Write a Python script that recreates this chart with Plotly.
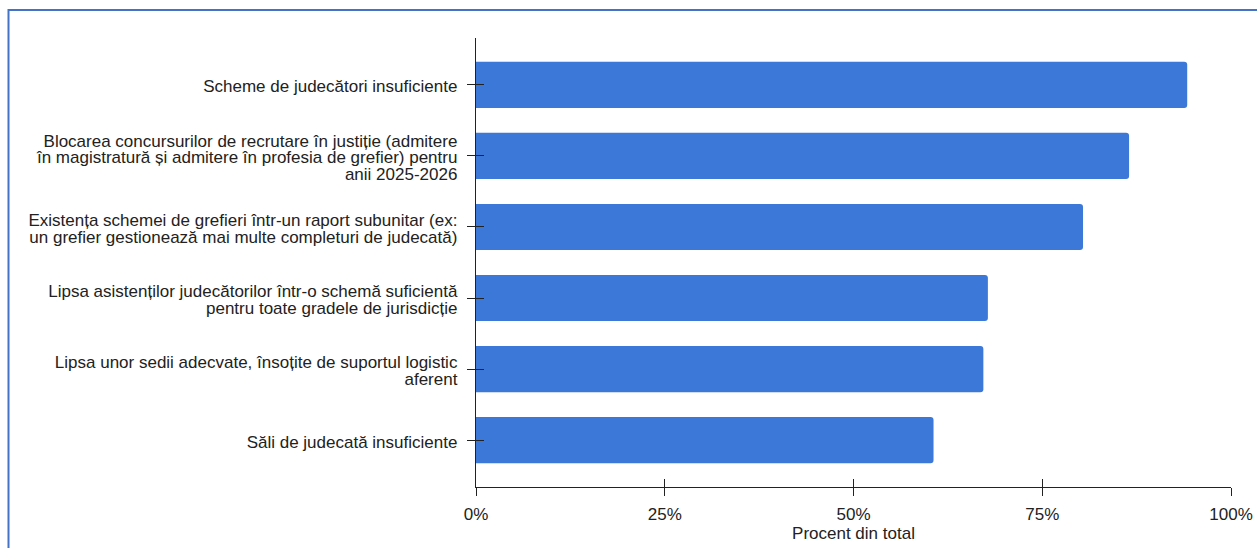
import plotly.graph_objects as go

categories = [
    "Scheme de judecători insuficiente",
    "Blocarea concursurilor de recrutare în justiție (admitere<br>în magistratură și admitere în profesia de grefier) pentru<br>anii 2025-2026",
    "Existența schemei de grefieri într-un raport subunitar (ex:<br>un grefier gestionează mai multe completuri de judecată)",
    "Lipsa asistenților judecătorilor într-o schemă suficientă<br>pentru toate gradele de jurisdicție",
    "Lipsa unor sedii adecvate, însoțite de suportul logistic<br>aferent",
    "Săli de judecată insuficiente",
]
values = [0.942, 0.865, 0.804, 0.678, 0.672, 0.606]
tick_vals = [0, 0.25, 0.5, 0.75, 1.0]
tick_text = ["0%", "25%", "50%", "75%", "100%"]
x_title = "Procent din total"

W, H = 1257, 548
L, R, T, B = 476, 26, 38, 61
FONT = "Liberation Sans, Arial, sans-serif"
TXT = "#222222"
FS = 17
Y_BASE_FS = 13  # sets the line spacing of multi-line category labels

# category labels: glyphs at FS, line spacing driven by the smaller base size
y_ticktext = [
    "<br>".join(f"<span style='font-size:{FS}px'>{ln}</span>" for ln in c.split("<br>"))
    for c in categories
]

fig = go.Figure()
fig.add_trace(go.Bar(
    x=values, y=categories, orientation="h",
    marker=dict(color="#3c78d8", line=dict(width=0), cornerradius=3),
    width=0.65, hoverinfo="x+y",
))
# invisible helper trace so the overlaid axes (for crossing ticks) are drawn
fig.add_trace(go.Scatter(
    x=values, y=categories, xaxis="x2", yaxis="y2", mode="markers",
    marker=dict(opacity=0), hoverinfo="skip", showlegend=False,
))

fig.update_layout(
    width=W, height=H,
    margin=dict(l=L, r=R, t=T, b=B, pad=0, autoexpand=False),
    paper_bgcolor="white", plot_bgcolor="white",
    showlegend=False,
    font=dict(family=FONT, size=FS, color=TXT),
    xaxis=dict(
        range=[0, 1], tickvals=tick_vals, ticktext=tick_text,
        showgrid=False, zeroline=False,
        showline=True, linecolor="#222222", linewidth=1,
        ticks="outside", ticklen=8, tickcolor="#222222", tickwidth=1,
        ticklabelstandoff=4,
        tickfont=dict(family=FONT, size=FS, color=TXT), automargin=False,
        title=dict(text=x_title, font=dict(family=FONT, size=FS, color=TXT), standoff=0),
        fixedrange=True,
    ),
    yaxis=dict(
        categoryorder="array", categoryarray=categories,
        tickvals=categories, ticktext=y_ticktext,
        range=[5.66, -0.66],
        showgrid=False, zeroline=False,
        showline=True, linecolor="#222222", linewidth=1,
        ticks="outside", ticklen=8, tickcolor="#222222", tickwidth=1,
        ticklabelstandoff=7, ticklabelshift=-3,
        tickfont=dict(family=FONT, size=Y_BASE_FS, color=TXT), automargin=False,
        fixedrange=True,
    ),
    xaxis2=dict(
        overlaying="x", matches="x", range=[0, 1], tickvals=tick_vals,
        showticklabels=False, showgrid=False, zeroline=False, showline=False,
        ticks="inside", ticklen=8, tickcolor="#222222", tickwidth=1, automargin=False,
    ),
    yaxis2=dict(
        overlaying="y", matches="y",
        categoryorder="array", categoryarray=categories,
        showticklabels=False, showgrid=False, zeroline=False, showline=False,
        ticks="inside", ticklen=8, tickcolor="#222222", tickwidth=1, automargin=False,
    ),
    bargap=0.35,
)

# outer frame of the original image (top and left edges visible)
pw, ph = W - L - R, H - T - B
def px_x(p):
    return (p - L) / pw
def px_y(p):
    return 1 - (p - T) / ph
fig.add_shape(type="line", xref="paper", yref="paper",
              x0=px_x(8), x1=px_x(W + 5), y0=px_y(10), y1=px_y(10),
              line=dict(color="#4472c4", width=2), layer="above")
fig.add_shape(type="line", xref="paper", yref="paper",
              x0=px_x(8.5), x1=px_x(8.5), y0=px_y(9), y1=px_y(H + 5),
              line=dict(color="#4472c4", width=2), layer="above")

fig.write_html("out.html", config={"displayModeBar": False})

# remove default page margin so the figure sits at the window origin
with open("out.html", "r", encoding="utf-8") as f:
    html = f.read()
html = html.replace("<head>", "<head><style>html,body{margin:0;padding:0;overflow:hidden;}</style>", 1)
with open("out.html", "w", encoding="utf-8") as f:
    f.write(html)
